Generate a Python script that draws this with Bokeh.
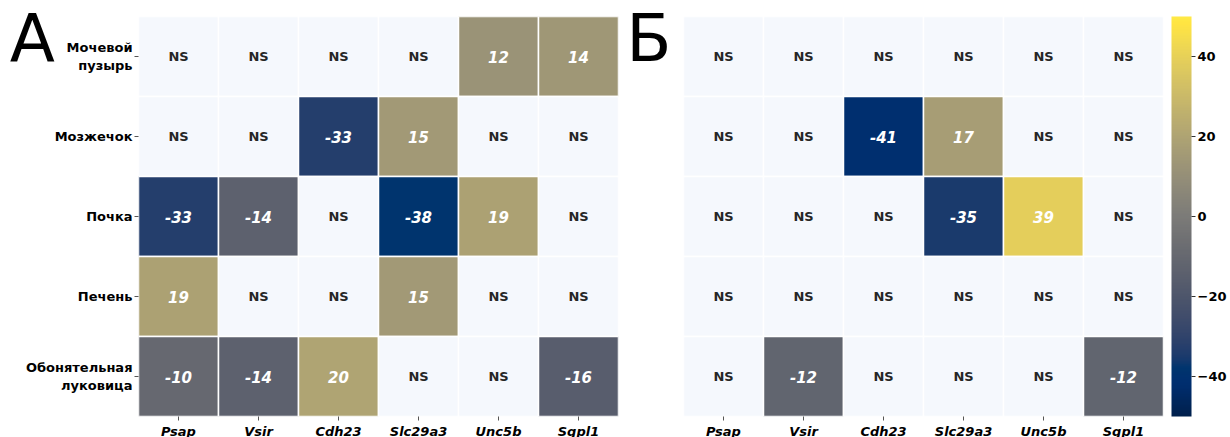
import math
from bokeh.plotting import figure
from bokeh.models import (ColumnDataSource, LinearColorMapper, ColorBar, FixedTicker,
                          LinearAxis)
from bokeh.layouts import row
from bokeh.palettes import Cividis256
from bokeh.transform import transform
from bokeh.core.properties import value
from bokeh.embed import file_html
from bokeh.resources import INLINE

genes = ["Psap", "Vsir", "Cdh23", "Slc29a3", "Unc5b", "Sgpl1"]
tissues = ["Мочевой\nпузырь", "Мозжечок", "Почка", "Печень", "Обонятельная\nлуковица"]

# None = NS (not significant)
panel_a = [
    [None, None, None, None, 12, 14],
    [None, None, -33, 15, None, None],
    [-33, -14, None, -38, 19, None],
    [19, None, None, 15, None, None],
    [-10, -14, 20, None, None, -16],
]
panel_b = [
    [None, None, None, None, None, None],
    [None, None, -41, 17, None, None],
    [None, None, None, -35, 39, None],
    [None, None, None, None, None, None],
    [None, -12, None, None, None, -12],
]
cbar_ticks = [-40, -20, 0, 20, 40]
vmin, vmax = -50, 50

FONT = "DejaVu Sans"
mapper = LinearColorMapper(palette=Cividis256, low=vmin, high=vmax, nan_color="#f5f8fd")


def style_letter(axis, letter, standoff):
    # panel letter drawn as the (horizontal, top-aligned) axis label;
    # the empty first line moves the letter below the frame's top edge
    axis.axis_label = "\n" + letter
    axis.axis_label_orientation = "horizontal"
    axis.axis_label_align = "end"
    axis.axis_label_standoff = standoff
    axis.axis_label_text_font = FONT
    axis.axis_label_text_font_style = "normal"
    axis.axis_label_text_font_size = "66px"
    axis.axis_label_text_line_height = 0.56
    axis.axis_label_text_color = "black"


def make_panel(data, letter, show_y, border_left, border_right, letter_standoff):
    xs, ys, vals = [], [], []
    ns_x, ns_y = [], []
    v_x, v_y, v_t = [], [], []
    for ti, t in enumerate(tissues):
        for gi, g in enumerate(genes):
            v = data[ti][gi]
            xs.append(g)
            ys.append(t)
            vals.append(float("nan") if v is None else float(v))
            if v is None:
                ns_x.append(g); ns_y.append(t)
            else:
                v_x.append(g); v_y.append(t); v_t.append(str(v))
    p = figure(x_range=genes, y_range=list(reversed(tissues)),
               frame_width=480, frame_height=400,
               output_backend="svg", toolbar_location=None,
               y_axis_location="left" if show_y else None,
               min_border_top=16, min_border_bottom=0,
               min_border_left=border_left, min_border_right=border_right)
    p.outline_line_color = None
    p.grid.grid_line_color = None
    src = ColumnDataSource(dict(x=xs, y=ys, v=vals))
    p.rect(x="x", y="y", width=1, height=1, source=src,
           fill_color=transform("v", mapper), line_color="white", line_width=1.5)
    p.text(x=ns_x, y=ns_y, text=["NS"] * len(ns_x), text_align="center",
           text_baseline="middle", text_color="#262626",
           text_font=value(FONT), text_font_style="bold", text_font_size="13px")
    p.text(x=v_x, y=v_y, text=v_t, text_align="center",
           text_baseline="middle", text_color="white",
           text_font=value(FONT), text_font_style="bold italic", text_font_size="15px")
    ax = p.xaxis[0]
    ax.axis_line_color = None
    ax.major_tick_in = 0
    ax.major_tick_out = 4
    ax.major_tick_line_color = "#555555"
    ax.major_label_standoff = 3
    ax.major_label_text_font = FONT
    ax.major_label_text_font_style = "bold italic"
    ax.major_label_text_font_size = "13px"
    ax.major_label_text_color = "black"
    if show_y:
        ay = p.yaxis[0]
        ay.axis_line_color = None
        ay.major_tick_in = 0
        ay.major_tick_out = 4
        ay.major_tick_line_color = "#555555"
        ay.major_label_standoff = 2
        ay.major_label_text_font = FONT
        ay.major_label_text_font_style = "bold"
        ay.major_label_text_font_size = "13px"
        ay.major_label_text_color = "black"
        ay.major_label_text_align = "right"
    else:
        ay = LinearAxis(ticker=FixedTicker(ticks=[]), axis_line_color=None,
                        major_tick_line_color=None, minor_tick_line_color=None)
        p.add_layout(ay, "left")
    style_letter(ay, letter, letter_standoff)
    return p


pa = make_panel(panel_a, "А", True, 138, 5, -32)
pb = make_panel(panel_b, "Б", False, 56, 71, 12)

cb = ColorBar(color_mapper=mapper, ticker=FixedTicker(ticks=cbar_ticks),
              location="center_left",
              width=20, height=400, padding=8, margin=0,
              bar_line_color=None, major_tick_in=0, major_tick_out=4,
              major_tick_line_color="#333333", label_standoff=2,
              major_label_text_font=FONT, major_label_text_font_style="bold",
              major_label_text_font_size="13px", major_label_text_color="black",
              major_label_overrides={-40: "−40", -20: "−20"})
pb.add_layout(cb, "right")

layout = row(pa, pb)
open("out.html", "w").write(file_html(layout, INLINE))
